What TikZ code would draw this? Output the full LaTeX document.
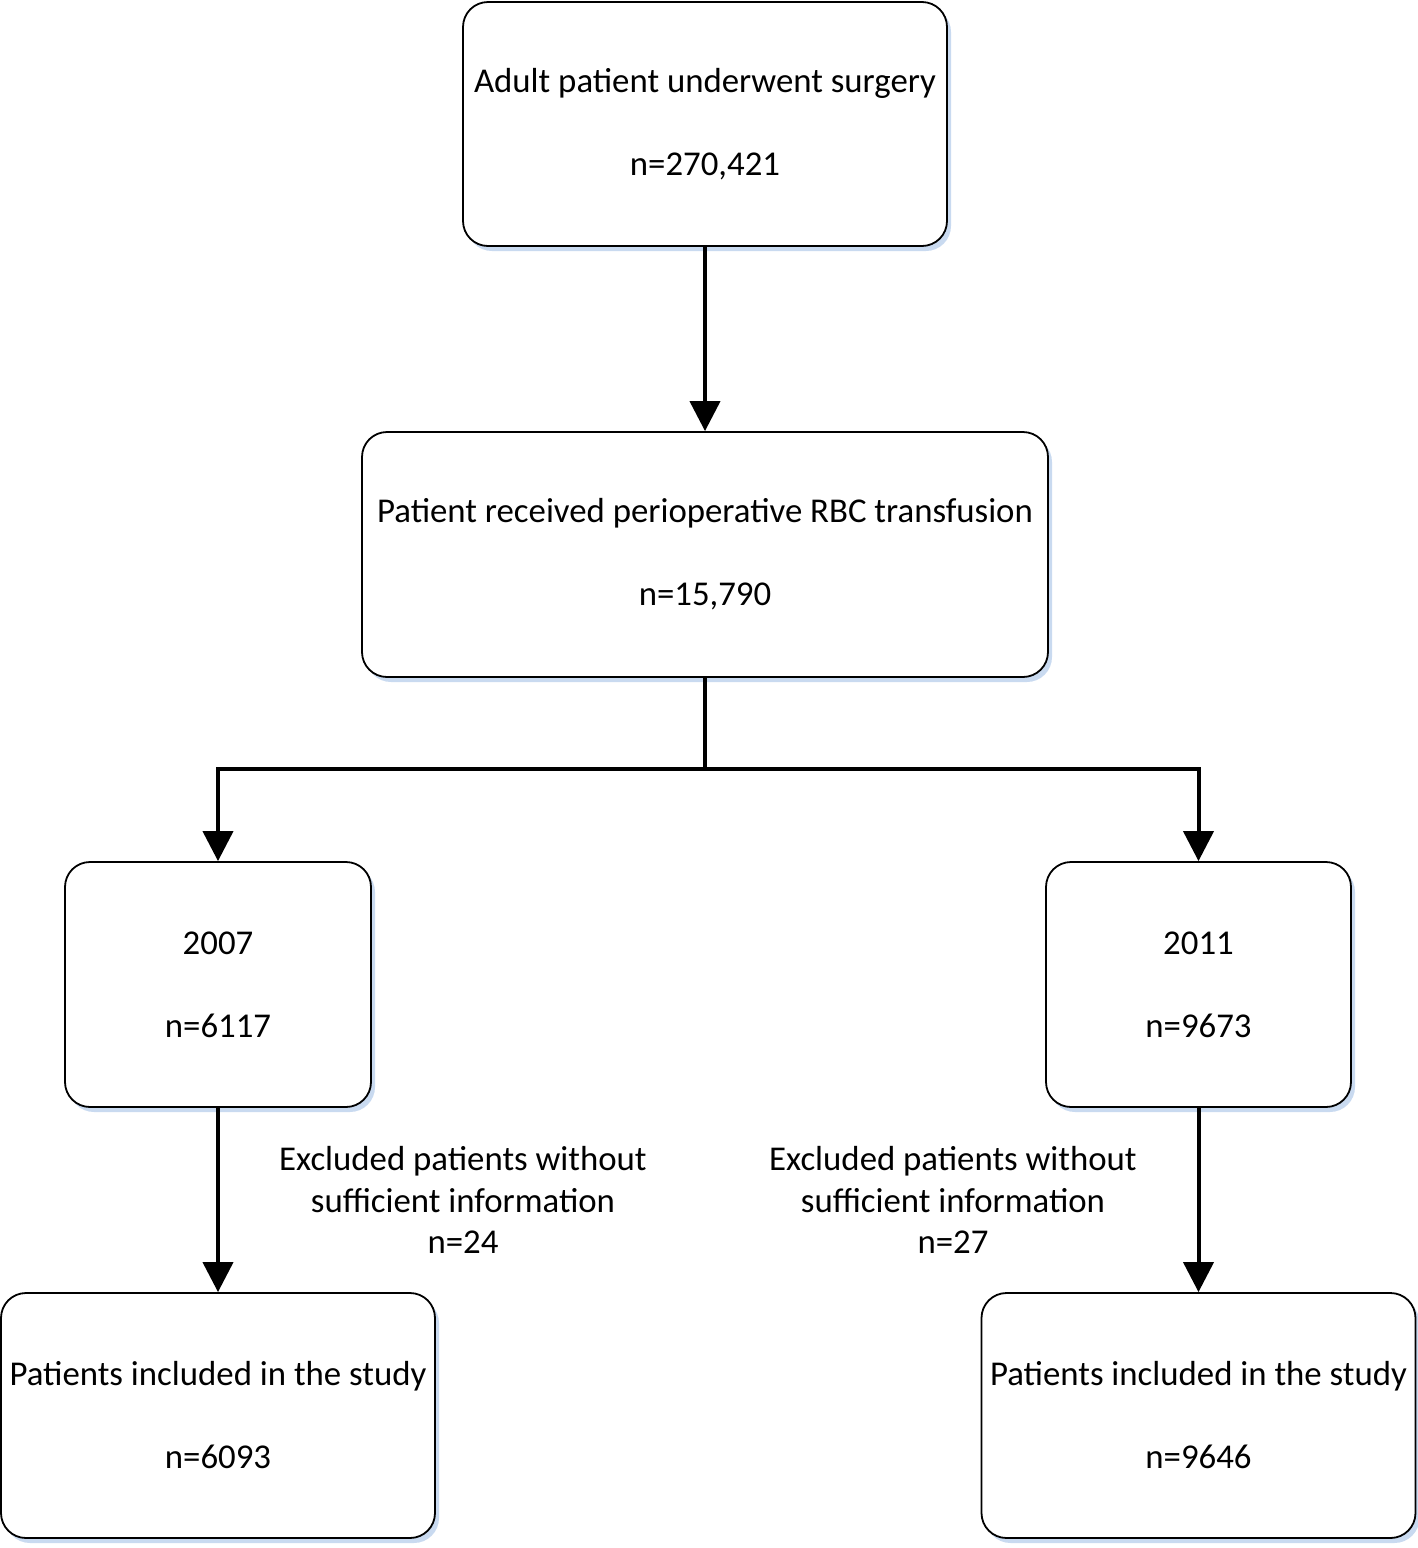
\documentclass[tikz,border=0pt]{standalone}
\usepackage{fontspec}
\setmainfont{Carlito}
\usetikzlibrary{arrows.meta,shadows}
\definecolor{shadowblue}{HTML}{C9DAF0}
\begin{document}
\begin{tikzpicture}[x=0.5pt,y=-0.5pt,
  box/.style={draw=black,line width=0.9pt,rounded corners=12.5pt,fill=white,
    align=center,inner sep=0pt,
    font=\fontsize{17.4}{41.5}\selectfont,
    drop shadow={fill=shadowblue,opacity=1,shadow xshift=2pt,shadow yshift=-2.5pt}},
  conn/.style={line width=2pt,-{Triangle[length=15pt,width=15pt]}},
  plain/.style={line width=2pt},
  lbl/.style={align=center,inner sep=0pt,font=\fontsize{17.4}{20.8}\selectfont}]
\useasboundingbox (0,0) rectangle (1418,1548);
\node[box,minimum width=242pt,minimum height=122pt] (top) at (705,124)
  {Adult patient underwent surgery\\n=270,421};
\node[box,minimum width=343pt,minimum height=122.5pt] (mid) at (705,554.5)
  {Patient received perioperative RBC transfusion\\n=15,790};
\node[box,minimum width=153pt,minimum height=122.5pt] (y07) at (218,984.5)
  {2007\\n=6117};
\node[box,minimum width=152.5pt,minimum height=122.5pt] (y11) at (1198.5,984.5)
  {2011\\n=9673};
\node[box,minimum width=217pt,minimum height=122.5pt] (inL) at (218,1415.5)
  {Patients included in the study\\n=6093};
\node[box,minimum width=217pt,minimum height=122.5pt] (inR) at (1198.5,1415.5)
  {Patients included in the study\\n=9646};
\node[lbl] (exL) at (463,1200) {Excluded patients without\\sufficient information\\n=24};
\node[lbl] (exR) at (953,1200) {Excluded patients without\\sufficient information\\n=27};
\coordinate (split) at (705,769);
\draw[conn] (top.south) -- (mid.north);
\draw[plain] (mid.south) -- (split);
\draw[conn] (split) -| (y07.north);
\draw[conn] (split) -| (y11.north);
\draw[conn] (y07.south) -- (inL.north);
\draw[conn] (y11.south) -- (inR.north);
\end{tikzpicture}
\end{document}
